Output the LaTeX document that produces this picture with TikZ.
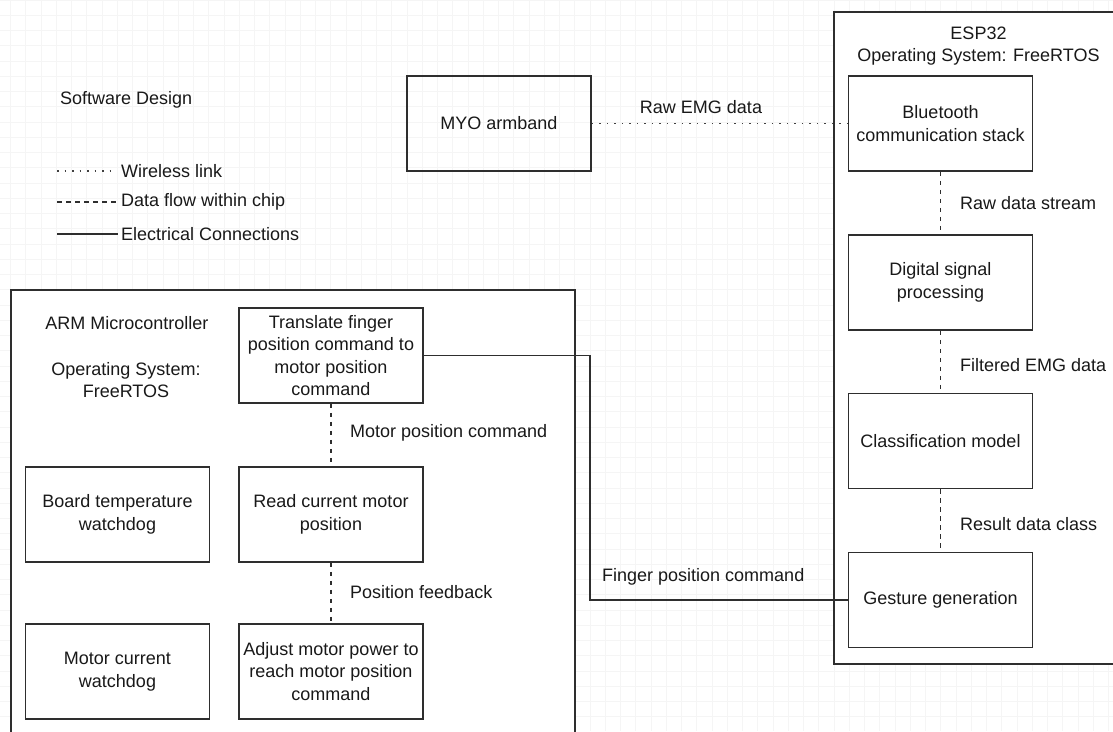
\documentclass[tikz,border=0pt]{standalone}
\usepackage{fontspec}
\setmainfont{Liberation Sans}
\begin{document}
\begin{tikzpicture}[x=1pt,y=-1pt,
  txt/.style={text=black!90,font=\fontsize{18}{22.5}\selectfont,inner sep=0pt,align=center},
  box/.style={txt,draw=black!82,line width=1.7pt,minimum width=184pt,minimum height=95pt},
  frame/.style={draw=black!82,line width=1.7pt},
  wire/.style={draw=black!82,line width=1.6pt},
  dashline/.style={draw=black!82,line width=1.6pt,dash pattern=on 4.5pt off 4.5pt},
  dotline/.style={draw=black!75,line width=1.6pt,dash pattern=on 1.5pt off 6pt},
  lbl/.style={txt,anchor=west,align=left}]
\useasboundingbox (0,0) rectangle (1113,731);
\clip (0,0) rectangle (1113,731);
\fill[white] (0,0) rectangle (1113,731);
% grid
\foreach \i in {0,...,72} \draw[black!4,line width=0.8pt] (10.5+\i*15.25,0) -- (10.5+\i*15.25,731);
\foreach \j in {0,...,48} \draw[black!4,line width=0.8pt] (0,\j*15.25) -- (1113,\j*15.25);

% outer frames
\draw[frame,fill=white] (11,290) rectangle (575,760);
\draw[frame,fill=white] (834,12) rectangle (1123,664);

% title and legend
\node[txt,anchor=west] (title) at (60,100) {Software Design};
\coordinate (l1a) at (57,171); \coordinate (l1b) at (113,171);
\coordinate (l2a) at (57,202); \coordinate (l2b) at (116,202);
\coordinate (l3a) at (57,234); \coordinate (l3b) at (118,234);
\draw[dotline] (l1a) -- (l1b);
\draw[dashline] (l2a) -- (l2b);
\draw[wire] (l3a) -- (l3b);
\node[lbl] (leg1) at (121,171) {Wireless link};
\node[lbl] (leg2) at (121,202) {Data flow within chip};
\node[lbl] (leg3) at (121,234) {Electrical Connections};

% ARM labels
\node[txt] (armt) at (127,323) {ARM Microcontroller};
\node[txt] (armos) at (126,380) {Operating System:\\FreeRTOS};

% ESP labels
\node[txt] (espt) at (978.5,46) {ESP32\\Operating System: FreeRTOS};

% boxes
\node[box] (myo) at (499,123.5) {MYO armband};
\node[box] (bt) at (940.5,123.5) {Bluetooth\\communication stack};
\node[box] (dsp) at (940.5,282.5) {Digital signal\\processing};
\node[box] (cls) at (940.5,441) {Classification model};
\node[box] (gest) at (940.5,600) {Gesture generation};

\node[box] (tr) at (331,355.5) {Translate finger\\position command to\\motor position\\command};
\node[box] (rd) at (331,514.5) {Read current motor\\position};
\node[box] (adj) at (331,671.5) {Adjust motor power to\\reach motor position\\command};
\node[box] (btw) at (117.5,514.5) {Board temperature\\watchdog};
\node[box] (mcw) at (117.5,671.5) {Motor current\\watchdog};

% connectors
\draw[dotline] (myo.east) -- (bt.west);
\node[txt] (l_raw) at (701,107) {Raw EMG data};
\draw[dashline] (bt.south) -- (dsp.north);
\node[lbl] (l_rds) at (960,203) {Raw data stream};
\draw[dashline] (dsp.south) -- (cls.north);
\node[lbl] (l_fil) at (960,365) {Filtered EMG data};
\draw[dashline] (cls.south) -- (gest.north);
\node[lbl] (l_res) at (960,524) {Result data class};

\draw[dashline] (tr.south) -- (rd.north);
\node[lbl] (l_mpc) at (350,433) {Motor position command};
\draw[dashline] (rd.south) -- (adj.north);
\node[lbl] (l_pf) at (350,592) {Position feedback};

\coordinate (c1) at (590,600);
\coordinate (c2) at (590,355.5);
\draw[wire] (gest.west) -- (c1) -- (c2) -- (tr.east);
\node[lbl] (l_fpc) at (602,577) {Finger position command};
\end{tikzpicture}
\end{document}
